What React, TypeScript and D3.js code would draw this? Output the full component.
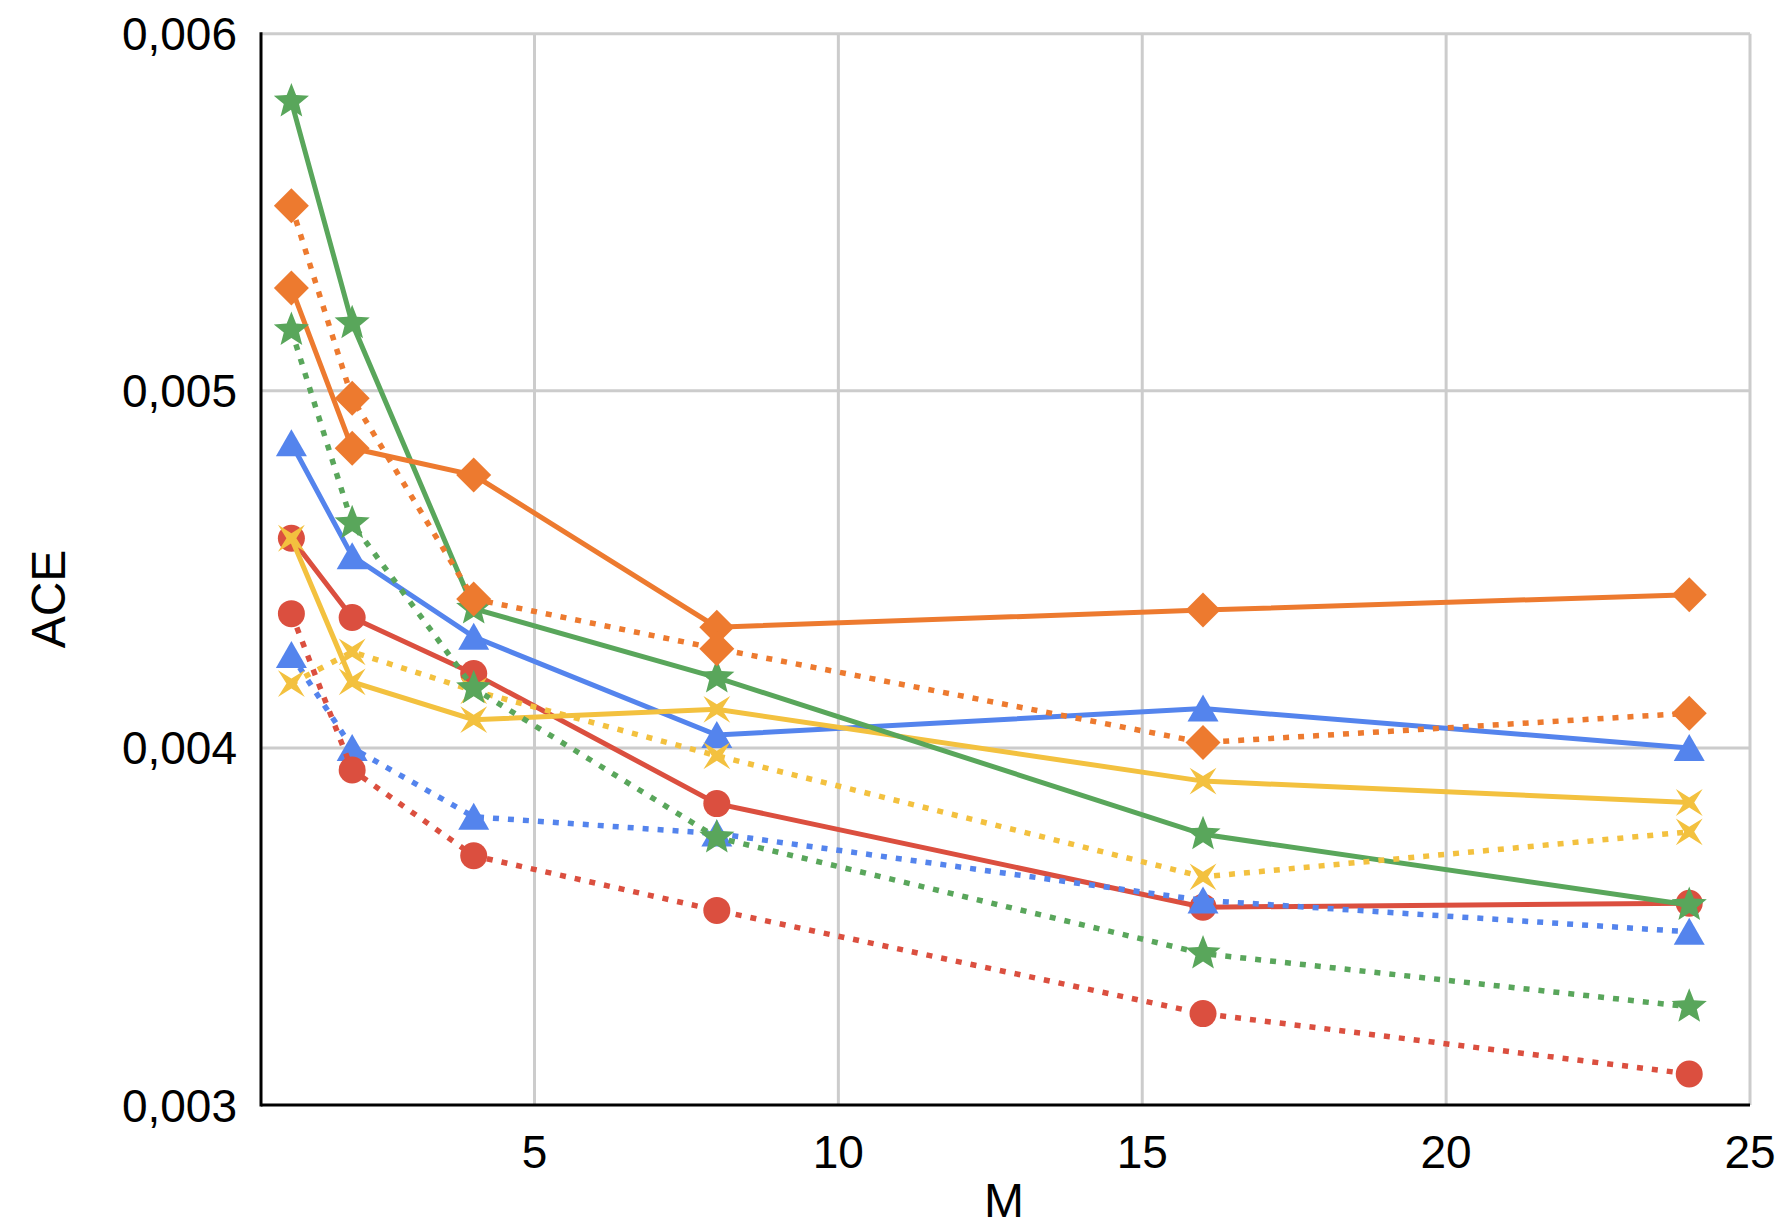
import React from 'react';
import * as d3 from 'd3';

// M values on the x axis
const mValues = [1, 2, 4, 8, 16, 24];

// solid series
const blueSolid = [0.004853, 0.004537, 0.004311, 0.004036, 0.00411, 0.004];
const redSolid = [0.004587, 0.004365, 0.004208, 0.003844, 0.003554, 0.003565];
const yellowSolid = [0.004587, 0.004185, 0.004079, 0.004108, 0.003907, 0.003847];
const greenSolid = [0.00581, 0.005189, 0.00439, 0.004197, 0.003758, 0.00356];
const orangeSolid = [0.005288, 0.004839, 0.004764, 0.004338, 0.004386, 0.004429];

// dotted series
const blueDotted = [0.00426, 0.004, 0.003807, 0.00376, 0.003573, 0.003485];
const redDotted = [0.004376, 0.003938, 0.003698, 0.003545, 0.003256, 0.003087];
const yellowDotted = [0.00418, 0.004269, 0.00416, 0.003978, 0.003639, 0.003765];
const greenDotted = [0.00517, 0.004629, 0.004167, 0.003749, 0.003424, 0.003275];
const orangeDotted = [0.005518, 0.004979, 0.004417, 0.004278, 0.004015, 0.004097];

const xTicks = [5, 10, 15, 20, 25];
const yTicks = [0.003, 0.004, 0.005, 0.006];

const WIDTH = 1786;
const HEIGHT = 1228;
const FONT = '"Liberation Sans", Arial, Helvetica, sans-serif';

const BLUE = '#5484ed';
const RED = '#db4f3f';
const YELLOW = '#f3c13f';
const GREEN = '#59a65b';
const ORANGE = '#ed7a2f';

type Marker = 'triangle' | 'circle' | 'xmark' | 'star' | 'diamond';

const series: { values: number[]; color: string; marker: Marker; dotted: boolean }[] = [
  { values: blueSolid, color: BLUE, marker: 'triangle', dotted: false },
  { values: redSolid, color: RED, marker: 'circle', dotted: false },
  { values: yellowSolid, color: YELLOW, marker: 'xmark', dotted: false },
  { values: greenSolid, color: GREEN, marker: 'star', dotted: false },
  { values: orangeSolid, color: ORANGE, marker: 'diamond', dotted: false },
  { values: blueDotted, color: BLUE, marker: 'triangle', dotted: true },
  { values: redDotted, color: RED, marker: 'circle', dotted: true },
  { values: yellowDotted, color: YELLOW, marker: 'xmark', dotted: true },
  { values: greenDotted, color: GREEN, marker: 'star', dotted: true },
  { values: orangeDotted, color: ORANGE, marker: 'diamond', dotted: true },
];

const commaFormat = d3.formatLocale({
  decimal: ',',
  thousands: '.',
  grouping: [3],
  currency: ['', ''],
}).format('.3f');

// star-like polygon around 0,0
const starPath = (points: number, outer: number, inner: number, rot: number) => {
  const pts: [number, number][] = [];
  for (let i = 0; i < points * 2; i++) {
    const r = i % 2 === 0 ? outer : inner;
    const a = rot + (Math.PI * i) / points;
    pts.push([Math.sin(a) * r, -Math.cos(a) * r]);
  }
  return 'M' + pts.map(p => p.join(',')).join('L') + 'Z';
};

const markerPath = (m: Marker) => {
  switch (m) {
    case 'triangle':
      return 'M0,-14L15.5,13L-15.5,13Z';
    case 'diamond':
      return 'M0,-17.5L17.5,0L0,17.5L-17.5,0Z';
    case 'star':
      return starPath(5, 18.5, 8, 0);
    case 'xmark':
      return starPath(4, 19, 5, Math.PI / 4);
    default:
      return '';
  }
};

const App: React.FC = () => {
  const x = d3.scaleLinear().domain([0.5, 25]).range([261, 1750]);
  const y = d3.scaleLinear().domain([0.003, 0.006]).range([1105, 33.7]);

  const line = d3
    .line<number>()
    .x((_, i) => x(mValues[i]))
    .y(d => y(d));

  const [x0, x1] = x.range();
  const [yBottom, yTop] = y.range();

  return (
    <div style={{ position: 'absolute', left: 0, top: 0 }}>
      <svg width={WIDTH} height={HEIGHT} style={{ display: 'block', background: '#fff' }} fontFamily={FONT}>
        {/* grid */}
        {yTicks.filter(t => t > 0.003).map(t => (
          <line key={'gy' + t} x1={x0} x2={x1} y1={y(t)} y2={y(t)} stroke="#cccccc" strokeWidth={3} />
        ))}
        {xTicks.map(t => (
          <line key={'gx' + t} x1={x(t)} x2={x(t)} y1={yTop} y2={yBottom} stroke="#cccccc" strokeWidth={3} />
        ))}

        {/* axes */}
        <line x1={x0} x2={x0} y1={yTop - 1.5} y2={yBottom + 1.5} stroke="#000" strokeWidth={3} />
        <line x1={x0} x2={x1} y1={yBottom} y2={yBottom} stroke="#000" strokeWidth={3} />

        {/* y tick labels */}
        {yTicks.map(t => (
          <text key={'ly' + t} x={237} y={y(t) + 16.5} textAnchor="end" fontSize={46} fill="#000">
            {commaFormat(t)}
          </text>
        ))}
        {/* x tick labels */}
        {xTicks.map(t => (
          <text key={'lx' + t} x={x(t)} y={1168} textAnchor="middle" fontSize={46} fill="#000">
            {t}
          </text>
        ))}

        {/* axis titles */}
        <text x={1004} y={1217} textAnchor="middle" fontSize={48} fill="#000">M</text>
        <text transform="translate(65,599) rotate(-90)" textAnchor="middle" fontSize={48} fill="#000">ACE</text>

        {/* series */}
        {series.map((s, si) => (
          <g key={'s' + si}>
            <path
              d={line(s.values) ?? ''}
              fill="none"
              stroke={s.color}
              strokeWidth={s.dotted ? 5.5 : 5}
              strokeDasharray={s.dotted ? '6 9' : undefined}
            />
            {s.values.map((v, i) =>
              s.marker === 'circle' ? (
                <circle key={i} cx={x(mValues[i])} cy={y(v)} r={13.5} fill={s.color} />
              ) : (
                <path
                  key={i}
                  d={markerPath(s.marker)}
                  transform={`translate(${x(mValues[i])},${y(v)})`}
                  fill={s.color}
                />
              )
            )}
          </g>
        ))}
      </svg>
    </div>
  );
};

export default App;
